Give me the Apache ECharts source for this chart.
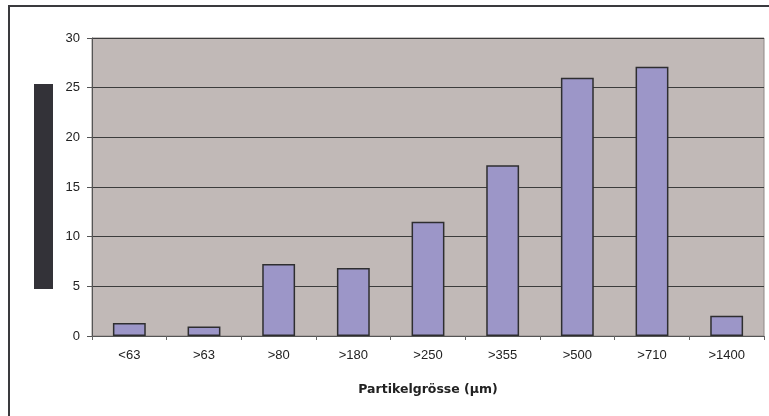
<!DOCTYPE html>
<html>
<head>
<meta charset="utf-8">
<script src="https://cdn.jsdelivr.net/npm/echarts@6/dist/echarts.min.js"></script>
<style>
html,body{margin:0;padding:0;background:#fff;}
#c{width:769px;height:416px;}
</style>
</head>
<body>
<div id="c"></div>
<script>
const categories = ['<63', '>63', '>80', '>180', '>250', '>355', '>500', '>710', '>1400'];
const values = [1.3, 0.95, 7.25, 6.85, 11.5, 17.2, 26.0, 27.1, 2.05];
const yTicks = [0, 5, 10, 15, 20, 25, 30];
const xTitle = 'Partikelgrösse (µm)';

const chart = echarts.init(document.getElementById('c'), null, {renderer: 'canvas'});
chart.setOption({
  animation: false,
  backgroundColor: '#ffffff',
  grid: {
    left: 92, right: 5, top: 38, bottom: 80,
    show: true,
    backgroundColor: '#c1b9b7',
    borderColor: '#8e8886',
    borderWidth: 1
  },
  graphic: [
    {type: 'rect', shape: {x: 9, y: 6, width: 800, height: 450}, style: {fill: 'none', stroke: '#3a3a3e', lineWidth: 2}, z: 100},
    {type: 'rect', shape: {x: 34, y: 84, width: 19, height: 205}, style: {fill: '#333238'}, z: 100}
  ],
  xAxis: {
    type: 'category',
    data: categories,
    boundaryGap: true,
    axisLine: {show: true, lineStyle: {color: '#555', width: 1}},
    axisTick: {show: true, alignWithLabel: false, length: 4, lineStyle: {color: '#666'}},
    axisLabel: {color: '#222', fontFamily: 'Liberation Sans, Arial', fontSize: 13, margin: 13},
    name: xTitle,
    nameLocation: 'middle',
    nameGap: 47,
    nameTextStyle: {color: '#222', fontFamily: 'DejaVu Sans', fontWeight: 'bold', fontSize: 12.5}
  },
  yAxis: {
    type: 'value',
    min: yTicks[0],
    max: yTicks[yTicks.length - 1],
    interval: 5,
    axisLine: {show: true, lineStyle: {color: '#555', width: 1}},
    axisTick: {show: true, length: 5, lineStyle: {color: '#555'}},
    axisLabel: {color: '#222', fontFamily: 'Liberation Sans, Arial', fontSize: 13, margin: 12},
    splitLine: {show: true, lineStyle: {color: '#3c3c3c', width: 1}}
  },
  series: [{
    type: 'bar',
    data: values,
    barWidth: '44%',
    itemStyle: {color: '#9c96c8', borderColor: '#2e2e30', borderWidth: 1.5}
  }]
});
</script>
</body>
</html>
